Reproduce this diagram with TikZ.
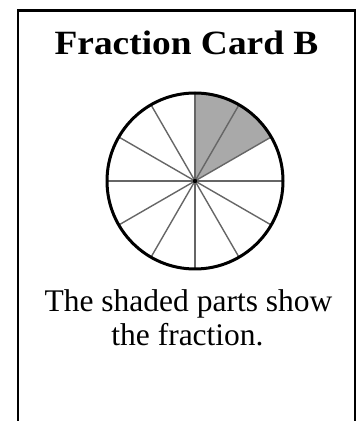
\documentclass[tikz,border=0pt]{standalone}
\usepackage{fontspec}
\setmainfont{Liberation Serif}
\newfontfamily\widefont[FakeStretch=1.1]{Liberation Serif}
\usetikzlibrary{positioning}

\definecolor{shadegray}{HTML}{A9A9A9}
\definecolor{spokegray}{HTML}{666666}

\begin{document}
\begin{tikzpicture}[x=1pt, y=1pt]
        \useasboundingbox (0,0) rectangle (357,421);

        % Card outline (runs off the bottom)
        \draw[line width=2.4pt] (18,-5) -- (18,410.5) -- (355,410.5) -- (355,-5);

        % Title
        \node[anchor=base, font=\widefont\bfseries\fontsize{34}{40}\selectfont] (title) at (186.5,366) {Fraction Card B};

        % Wheel of twelfths, two shaded
        \fill[shadegray] (195,240) -- ++(90:88pt) arc[start angle=90, end angle=30, radius=88pt] -- cycle;
        \foreach \a in {0,30,...,330}
            \draw[spokegray, line width=1.4pt] (195,240) -- ++(\a:88pt);
        \draw[line width=3pt] (195,240) circle[radius=88pt];
        \fill (195,240) circle[radius=2.2pt];

        % Caption
        \node[anchor=base, font=\fontsize{31.5}{36}\selectfont] (capone) at (188.5,109) {The shaded parts show};
        \node[anchor=base, font=\fontsize{31.5}{36}\selectfont] (captwo) at (187.5,75) {the fraction.};
    \end{tikzpicture}
\end{document}
